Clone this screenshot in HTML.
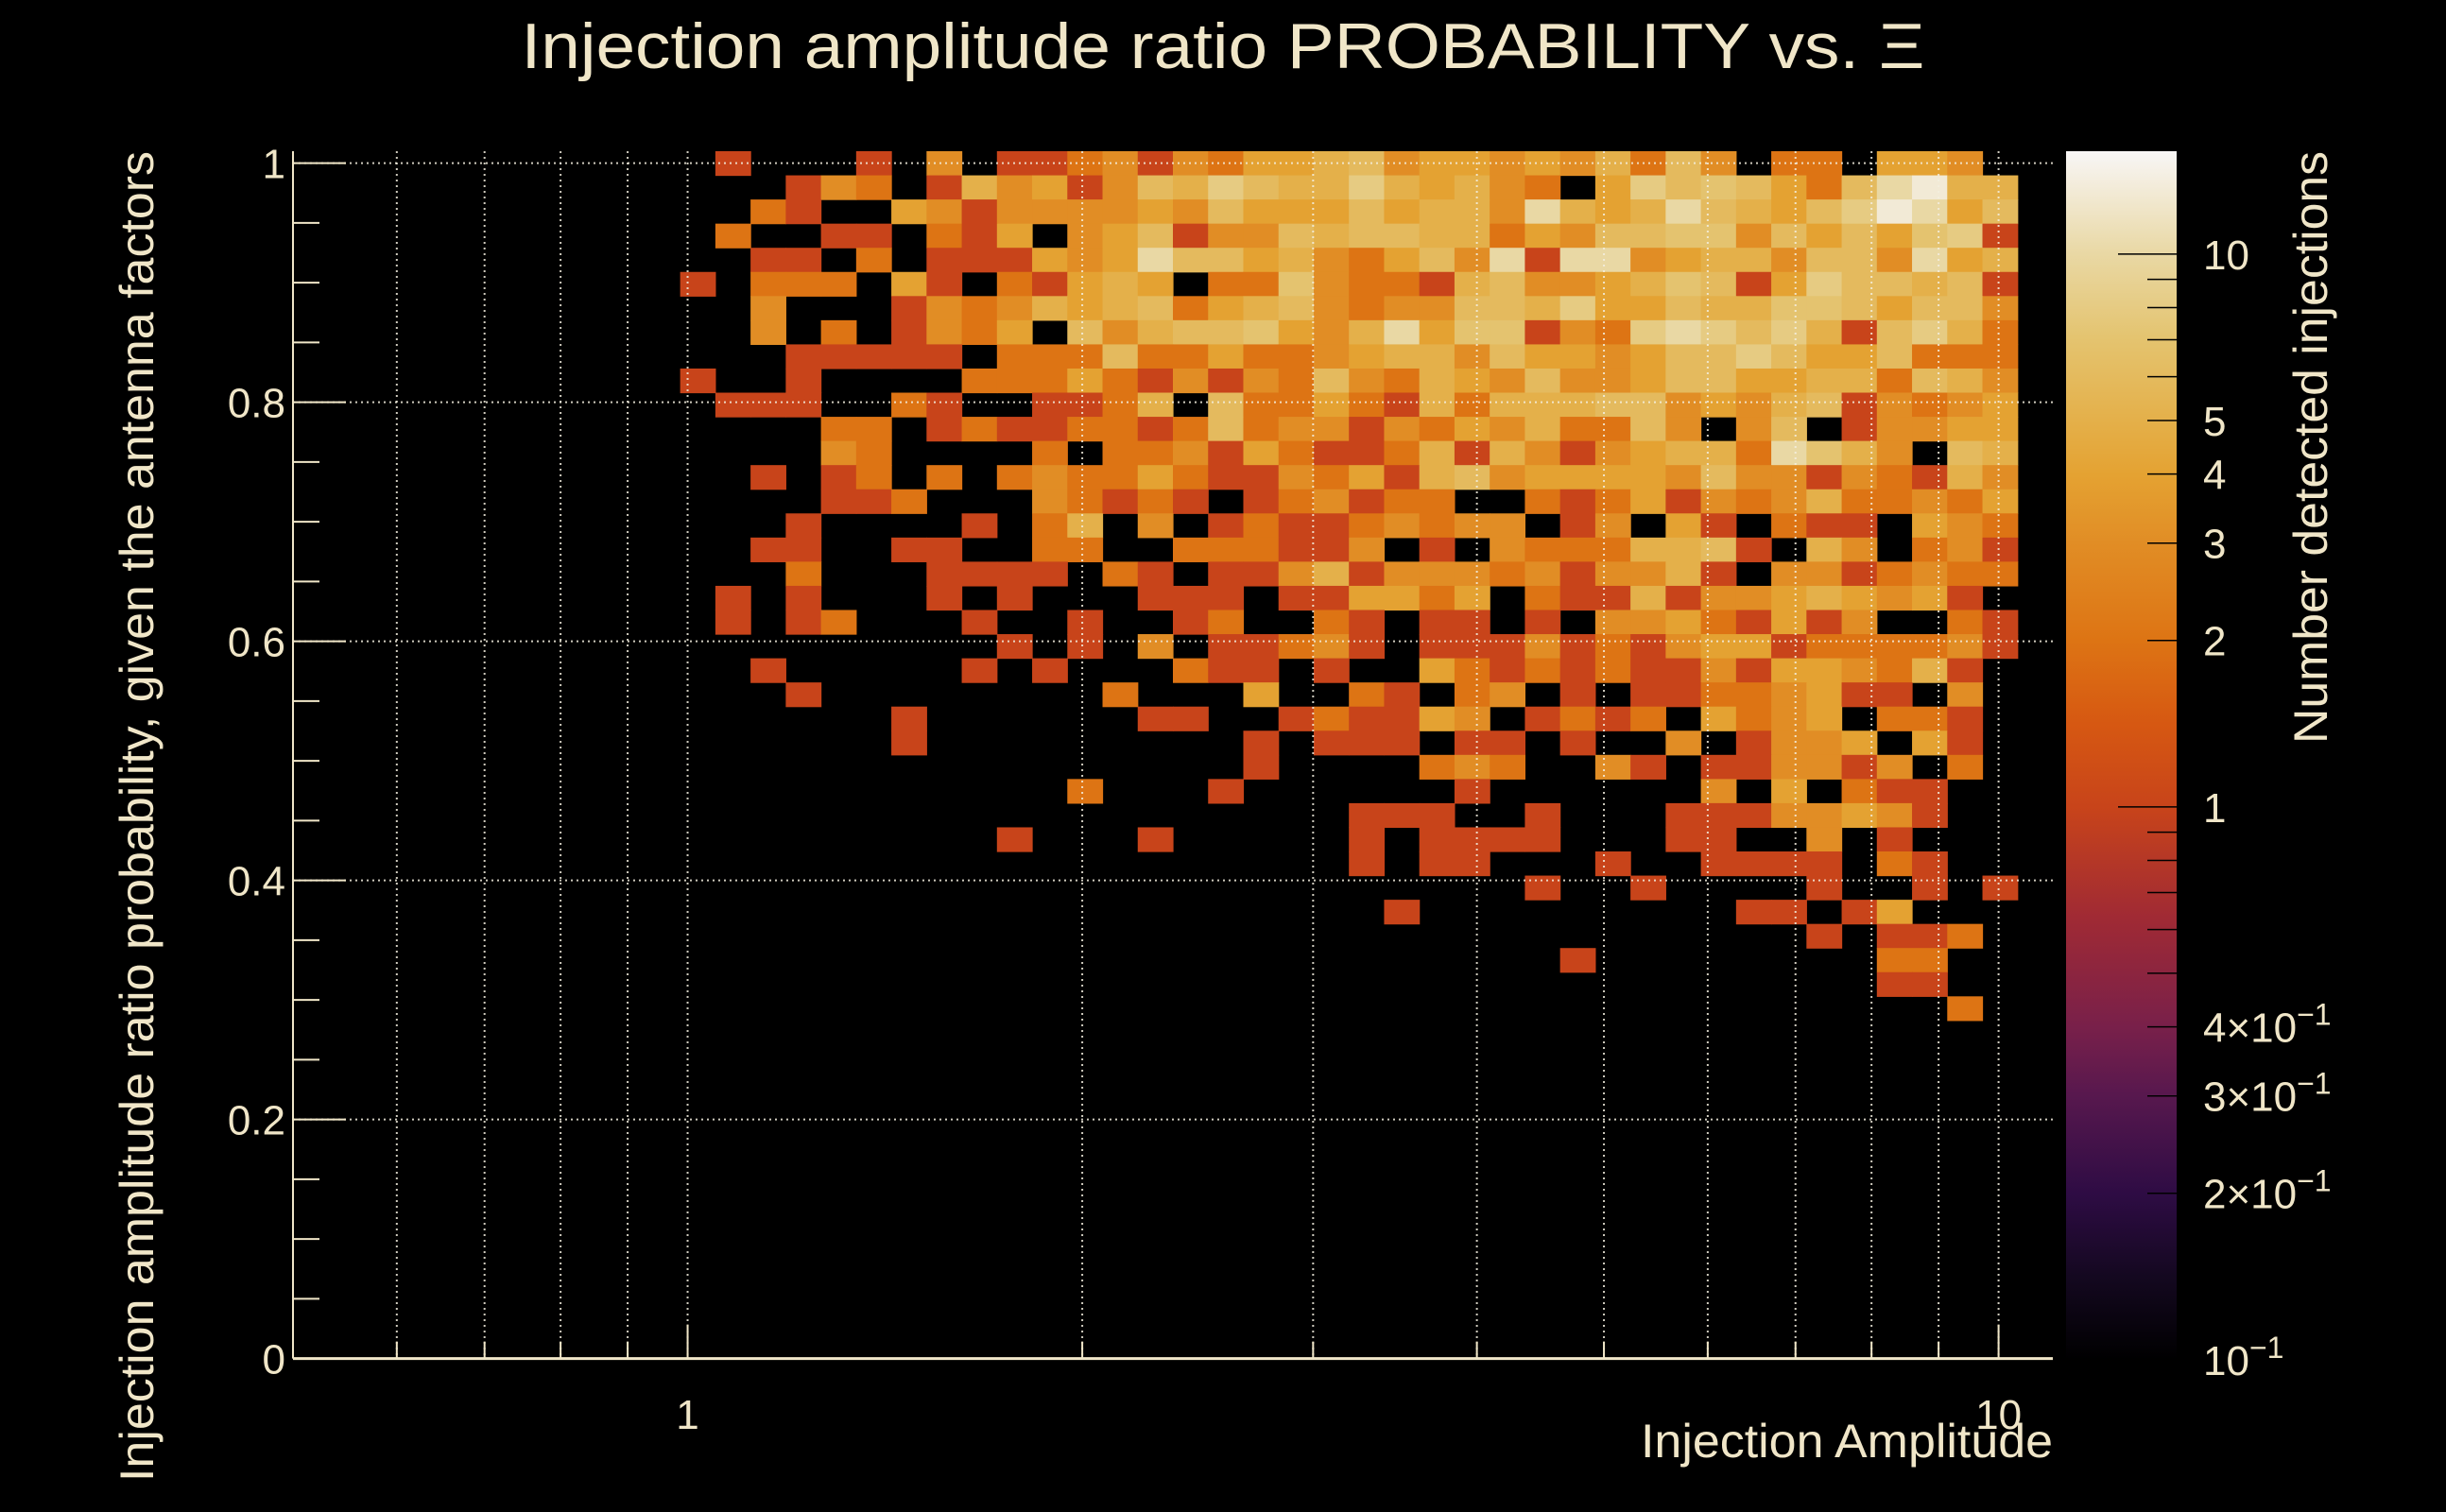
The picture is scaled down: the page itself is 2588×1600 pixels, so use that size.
<!DOCTYPE html>
<html>
<head>
<meta charset="utf-8">
<style>
html,body{margin:0;padding:0;background:#000;}
svg{display:block;}
text{font-family:"Liberation Sans",sans-serif;fill:#f0e6c8;}
</style>
</head>
<body>
<svg id="chart" width="2588" height="1600" viewBox="0 0 2588 1600" xmlns="http://www.w3.org/2000/svg">
  <rect x="0" y="0" width="2588" height="1600" fill="#000"/>
  <defs>
    <linearGradient id="cbgrad" x1="0" y1="1" x2="0" y2="0"></linearGradient>
  </defs>
  <g id="cells"></g>
  <g id="grid"></g>
  <g id="axes"></g>
  <g id="colorbar"></g>
  <text x="1294" y="72" font-size="68" text-anchor="middle" textLength="1485" lengthAdjust="spacingAndGlyphs">Injection amplitude ratio PROBABILITY vs.  Ξ</text>
  <text x="2172" y="1542" font-size="50" text-anchor="end" textLength="436" lengthAdjust="spacingAndGlyphs">Injection Amplitude</text>
  <text transform="translate(162,160) rotate(-90)" font-size="50" text-anchor="end" textLength="1408" lengthAdjust="spacingAndGlyphs">Injection amplitude ratio probability, given the antenna factors</text>
  <text transform="translate(2462,160) rotate(-90)" font-size="50" text-anchor="end" textLength="627" lengthAdjust="spacingAndGlyphs">Number detected injections</text>
</svg>
<script>
// ---- data ----
// histogram binning
const xMin = 0.5, xMax = 11, nBinsX = 50;
const yMin = 0, yMax = 1.01, nBinsY = 50;
// counts: one string per y-bin row, top row (highest y bin) first, each char a count (hex) for x-bins starting at firstXBin
const firstXBin = 11;
const topYBin = 49;
const countRows = [
"01000103011231324456344343526302204430",
"00013201534136586558545320486764 26ad55".replace(" ",""),
"002100431333343644464553a545a65468da46",
"02001102140346133656655243667736464781",
"0011020111434a664532463a1aa34553663a45",
"10222041021454022732215633457614866561",
"00300013235456245632336658446557764663",
"00302013240635667435a4771328a868516852",
"00011111022262242234553644346686446222",
"10010000222421313263254363346644552653",
"01110021001125062242152555663435613234",
"00002201211221262331324352263036013344",
"0000320000202231421125153134552a753065",
"00101202023224211324156344443633132153",
"00001120003212101231220021241323522324",
"00010000102503012112323301304102110432",
"00110011002200222113010322255610530231",
"00020001111021011351333231335103312322",
"01010001010001110114424021151334543410",
"01012000100100120021011010334214130021",
"00000000010103011231011131213441222231",
"00100000101000211010042121211314432510",
"00010000000020004002102301011223411030",
"00000010000001100121143012120423402210",
"00000010000000001011101101003013340410",
"00000000000000001000023200310113313020",
"00000000000200010000001000000304021100",
"00000000000000000001110010001113343100",
"00000000010001000001011110001100301000",
"00000000000000000001011000100111102100",
"00000000000000000000000010010000100101",
"00000000000000000000100000000011014000",
"00000000000000000000000000000000101120",
"00000000000000000000000001000000002200",
"00000000000000000000000000000000001100",
"00000000000000000000000000000000000020"
];
// axis tick labels
const yTickValues = [0, 0.2, 0.4, 0.6, 0.8, 1];
const yTickLabels = ["0", "0.2", "0.4", "0.6", "0.8", "1"];
const xMajorTicks = [1, 10];
const xMajorLabels = ["1", "10"];
const xMinorTicks = [0.6, 0.7, 0.8, 0.9, 2, 3, 4, 5, 6, 7, 8, 9];
const zMin = 0.1, zMax = 15.35;
const zTickValues = [10, 5, 4, 3, 2, 1, 0.4, 0.3, 0.2, 0.1];
const zTickLabels = ["10", "5", "4", "3", "2", "1", "4×10", "3×10", "2×10", "10"];
const zTickExp = ["", "", "", "", "", "", "−1", "−1", "−1", "−1"];
const zMinorTicks = [0.2, 0.3, 0.4, 0.5, 0.6, 0.7, 0.8, 0.9, 2, 3, 4, 5, 6, 7, 8, 9];
// ---- layout ----
const NS = "http://www.w3.org/2000/svg";
const PL = 310, PR = 2172, PT = 160, PB = 1437.6;
const lx0 = Math.log10(xMin), lx1 = Math.log10(xMax);
function xPix(v){ return PL + (Math.log10(v) - lx0) / (lx1 - lx0) * (PR - PL); }
function yPix(v){ return PB - (v - yMin) / (yMax - yMin) * (PB - PT); }
const CB_L = 2186, CB_R = 2303, CB_T = 160, CB_B = 1438.8;
const lz0 = Math.log10(zMin), lz1 = Math.log10(zMax);
function zPix(v){ return CB_B - (Math.log10(v) - lz0) / (lz1 - lz0) * (CB_B - CB_T); }
const cstops = [[-1,"#000000"],[-0.85,"#140820"],[-0.7,"#2e0c44"],[-0.52,"#58184e"],[-0.4,"#78204a"],[-0.2,"#a02a34"],[0,"#c8441a"],[0.15,"#d65812"],[0.3,"#dd7414"],[0.477,"#e18d25"],[0.6,"#e4a232"],[0.7,"#e4b04a"],[0.85,"#e4c470"],[1.0,"#e9d8a4"],[1.186,"#f8f6f6"]];
function hex2rgb(h){ return [parseInt(h.substr(1,2),16),parseInt(h.substr(3,2),16),parseInt(h.substr(5,2),16)]; }
function zColor(z){
  const l = Math.log10(z);
  if (l <= cstops[0][0]) return cstops[0][1];
  for (let i = 1; i < cstops.length; i++){
    if (l <= cstops[i][0]){
      const t = (l - cstops[i-1][0]) / (cstops[i][0] - cstops[i-1][0]);
      const a = hex2rgb(cstops[i-1][1]), b = hex2rgb(cstops[i][1]);
      return "rgb(" + a.map((c,k)=>Math.round(c + (b[k]-c)*t)).join(",") + ")";
    }
  }
  return cstops[cstops.length-1][1];
}
function mk(tag, attrs, parent){
  const e = document.createElementNS(NS, tag);
  for (const k in attrs) e.setAttribute(k, attrs[k]);
  parent.appendChild(e);
  return e;
}
// ---- cells ----
const cells = document.getElementById("cells");
const dlx = (lx1 - lx0) / nBinsX, dy = (yMax - yMin) / nBinsY;
countRows.forEach((row, r) => {
  const j = topYBin - r;
  for (let c = 0; c < row.length; c++){
    const v = parseInt(row[c], 16);
    if (!v) continue;
    const i = firstXBin + c;
    const x0 = xPix(Math.pow(10, lx0 + i*dlx)), x1 = xPix(Math.pow(10, lx0 + (i+1)*dlx));
    const y1 = yPix(yMin + j*dy), y0 = yPix(yMin + (j+1)*dy);
    const rect = mk("rect", {x:x0.toFixed(2), y:y0.toFixed(2), width:(x1-x0+0.6).toFixed(2), height:(y1-y0+0.6).toFixed(2), fill:zColor(v)}, cells);
    
    
  }
});
// ---- grid ----
const grid = document.getElementById("grid");
const gstyle = {stroke:"#f4efe0", "stroke-width":"2", "stroke-dasharray":"2,4", opacity:"0.85"};
yTickValues.forEach(v => {
  if (v === 0) return;
  const y = yPix(v);
  const l = mk("line", Object.assign({x1:PL, x2:PR, y1:y, y2:y}, gstyle), grid);
  
  
});
xMajorTicks.concat(xMinorTicks).forEach(v => {
  const x = xPix(v);
  const l = mk("line", Object.assign({x1:x, x2:x, y1:PT, y2:PB}, gstyle), grid);
  
  
});
// ---- axes ----
const axes = document.getElementById("axes");
const ac = "#f0e6c8";
let ln = mk("line", {x1:PL, x2:PL, y1:PT, y2:PB, stroke:ac, "stroke-width":2}, axes);


ln = mk("line", {x1:PL, x2:PR, y1:PB, y2:PB, stroke:ac, "stroke-width":3}, axes);


for (let k = 0; k <= 20; k++){
  const v = k * 0.05;
  const major = (k % 4 === 0);
  const y = yPix(v);
  const t = mk("line", {x1:PL, x2:PL + (major ? 56 : 28), y1:y, y2:y, stroke:ac, "stroke-width":2}, axes);
  
  
}
yTickValues.forEach((v, k) => {
  const t = mk("text", {x:302, y:yPix(v) + 16, "font-size":44, "text-anchor":"end"}, axes);
  t.textContent = yTickLabels[k];
  
  
});
xMajorTicks.forEach((v, k) => {
  const x = xPix(v);
  const t = mk("line", {x1:x, x2:x, y1:PB, y2:PB - 36, stroke:ac, "stroke-width":2}, axes);
  
  
  const lb = mk("text", {x:x, y:1512, "font-size":44, "text-anchor":"middle"}, axes);
  lb.textContent = xMajorLabels[k];
  
  
});
xMinorTicks.forEach(v => {
  const x = xPix(v);
  const t = mk("line", {x1:x, x2:x, y1:PB, y2:PB - 18, stroke:ac, "stroke-width":2}, axes);
  
  
});
// ---- colorbar ----
const grad = document.getElementById("cbgrad");
cstops.forEach(s => {
  const st = mk("stop", {offset:((s[0] - lz0) / (lz1 - lz0)).toFixed(4), "stop-color":s[1]}, grad);
});
const cb = document.getElementById("colorbar");
const cbr = mk("rect", {x:CB_L, y:CB_T, width:CB_R - CB_L, height:CB_B - CB_T, fill:"url(#cbgrad)"}, cb);


[1, 10].forEach(v => {
  const y = zPix(v);
  const t = mk("line", {x1:CB_R, x2:CB_R - 62, y1:y, y2:y, stroke:"#000", "stroke-width":1.5}, cb);
  
  
});
zMinorTicks.forEach(v => {
  const y = zPix(v);
  const t = mk("line", {x1:CB_R, x2:CB_R - 31, y1:y, y2:y, stroke:"#000", "stroke-width":1.5}, cb);
  
  
});
zTickValues.forEach((v, k) => {
  const t = mk("text", {x:2331, y:zPix(v) + 16, "font-size":44}, cb);
  t.textContent = zTickLabels[k];
  if (zTickExp[k]){
    const sp = mk("tspan", {dy:-18, "font-size":32}, t);
    sp.textContent = zTickExp[k];
  }
  
  
});
</script>
</body>
</html>
